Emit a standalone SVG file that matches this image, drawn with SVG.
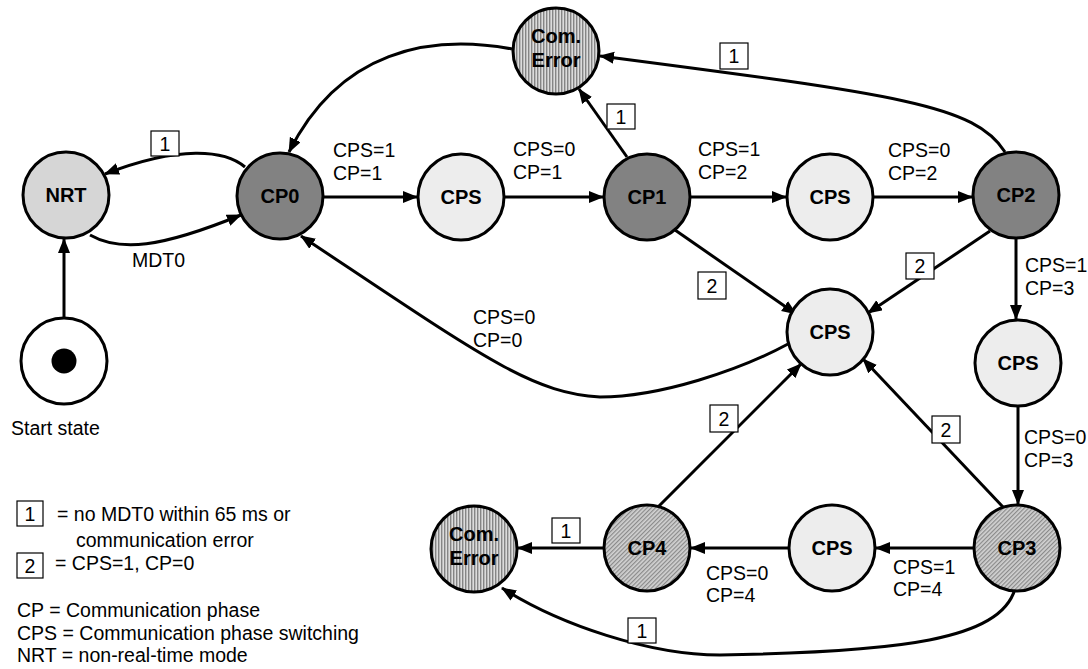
<svg xmlns="http://www.w3.org/2000/svg" width="1088" height="669" viewBox="0 0 1088 669">
<defs>
<style>
.node{stroke:#000;stroke-width:3}
.dark{fill:#828282}
.nrt{fill:#d6d6d6}
.cps{fill:#ededed}
.err{fill:url(#vstripe)}
.hatch{fill:url(#dstripe)}
.nl{font-family:"Liberation Sans",Arial,sans-serif;font-weight:bold;font-size:20px;text-anchor:middle;fill:#000}
.lbl{font-family:"Liberation Sans",Arial,sans-serif;font-size:19.5px;fill:#000}
.box{fill:#fff;stroke:#000;stroke-width:1.2}
.bt{font-family:"Liberation Sans",Arial,sans-serif;font-size:19.5px;text-anchor:middle;fill:#000}
.edge{fill:none;stroke:#000;stroke-width:3;marker-end:url(#arr)}
</style>
<marker id="arr" markerUnits="userSpaceOnUse" markerWidth="16" markerHeight="14" refX="14" refY="6" orient="auto">
<path d="M0,0 L15,6 L0,12 z" fill="#000"/>
</marker>
<pattern id="vstripe" width="3" height="3" patternUnits="userSpaceOnUse">
<rect width="3" height="3" fill="#dcdcdc"/>
<rect x="0" width="1.4" height="3" fill="#858585"/>
</pattern>
<pattern id="dstripe" width="3" height="3" patternUnits="userSpaceOnUse" patternTransform="rotate(45)">
<rect width="3" height="3" fill="#d2d2d2"/>
<rect x="0" width="1.2" height="3" fill="#8a8a8a"/>
</pattern>
</defs>
<rect width="1088" height="669" fill="#fff"/>

<g id="connectors">
<path class="edge" d="M64,318 L64,239"/>
<path class="edge" d="M245,167 C225,150 180,145 105,174"/>
<path class="edge" d="M90,235 C120,252 160,248 241,215"/>
<path class="edge" d="M323,197 L417,197"/>
<path class="edge" d="M504,197 L603,197"/>
<path class="edge" d="M690,197 L786,197"/>
<path class="edge" d="M873,197 L972,197"/>
<path class="edge" d="M627,157 L579,89"/>
<path class="edge" d="M1005,152 C975,105 900,95 600,56"/>
<path class="edge" d="M512,49 C430,34 340,50 289,152"/>
<path class="edge" d="M675,230 L796,314"/>
<path class="edge" d="M990,231 L868,313"/>
<path class="edge" d="M788,344 C740,370 660,397 600,397 C530,393 480,355 301,236"/>
<path class="edge" d="M1016,238 L1016,319"/>
<path class="edge" d="M1018,406 L1018,504"/>
<path class="edge" d="M1003,507 L863,359"/>
<path class="edge" d="M658,507 L801,364"/>
<path class="edge" d="M974,548 L876,548"/>
<path class="edge" d="M789,548 L691,548"/>
<path class="edge" d="M604,548 L518,548"/>
<path class="edge" d="M1015,589 C1000,640 900,652 720,655 C650,655 560,625 502,588"/>
</g>

<g id="edge-labels">
<text class="lbl" x="333" y="157">CPS=1</text>
<text class="lbl" x="333" y="180">CP=1</text>
<text class="lbl" x="513" y="156">CPS=0</text>
<text class="lbl" x="513" y="179">CP=1</text>
<text class="lbl" x="698" y="156">CPS=1</text>
<text class="lbl" x="698" y="179">CP=2</text>
<text class="lbl" x="888" y="157">CPS=0</text>
<text class="lbl" x="888" y="180">CP=2</text>
<text class="lbl" x="132" y="267">MDT0</text>
<text class="lbl" x="473" y="324">CPS=0</text>
<text class="lbl" x="473" y="347">CP=0</text>
<text class="lbl" x="1025" y="272">CPS=1</text>
<text class="lbl" x="1025" y="295">CP=3</text>
<text class="lbl" x="1024" y="444">CPS=0</text>
<text class="lbl" x="1024" y="467">CP=3</text>
<text class="lbl" x="893" y="574">CPS=1</text>
<text class="lbl" x="893" y="596">CP=4</text>
<text class="lbl" x="706" y="580">CPS=0</text>
<text class="lbl" x="706" y="602">CP=4</text>
<rect class="box" x="151" y="131" width="28" height="25"/><text class="bt" x="165" y="151">1</text>
<rect class="box" x="607" y="104" width="28" height="25"/><text class="bt" x="621" y="124">1</text>
<rect class="box" x="720" y="43" width="28" height="26"/><text class="bt" x="734" y="63">1</text>
<rect class="box" x="698" y="272" width="28" height="27"/><text class="bt" x="712" y="293">2</text>
<rect class="box" x="906" y="253" width="28" height="26"/><text class="bt" x="920" y="273">2</text>
<rect class="box" x="710" y="405" width="28" height="27"/><text class="bt" x="724" y="426">2</text>
<rect class="box" x="932" y="416" width="28" height="27"/><text class="bt" x="946" y="437">2</text>
<rect class="box" x="552" y="518" width="28" height="25"/><text class="bt" x="566" y="538">1</text>
<rect class="box" x="628" y="618" width="28" height="25"/><text class="bt" x="642" y="638">1</text>
</g>

<g id="start">
<circle class="node" cx="64" cy="361" r="43" fill="#fff"/>
<circle cx="64" cy="361" r="12.5" fill="#000"/>
<text class="lbl" x="11" y="435">Start state</text>
</g>
<g id="nrt"><circle class="node nrt" cx="66" cy="195" r="43"/><text class="nl" x="66" y="202">NRT</text></g>
<g id="cp0"><circle class="node dark" cx="280" cy="196" r="43"/><text class="nl" x="280" y="203">CP0</text></g>
<g id="cps-a"><circle class="node cps" cx="461" cy="197" r="43"/><text class="nl" x="461" y="204">CPS</text></g>
<g id="cp1"><circle class="node dark" cx="647" cy="197" r="43"/><text class="nl" x="647" y="204">CP1</text></g>
<g id="cps-b"><circle class="node cps" cx="830" cy="197" r="43"/><text class="nl" x="830" y="204">CPS</text></g>
<g id="cp2"><circle class="node dark" cx="1016" cy="195" r="43"/><text class="nl" x="1016" y="202">CP2</text></g>
<g id="comerr-top"><circle class="node err" cx="556" cy="51" r="43"/><text class="nl" x="556" y="43">Com.</text><text class="nl" x="556" y="67">Error</text></g>
<g id="cps-c"><circle class="node cps" cx="830" cy="332" r="43"/><text class="nl" x="830" y="339">CPS</text></g>
<g id="cps-d"><circle class="node cps" cx="1018" cy="363" r="43"/><text class="nl" x="1018" y="370">CPS</text></g>
<g id="cp3"><circle class="node hatch" cx="1017" cy="548" r="43"/><text class="nl" x="1017" y="555">CP3</text></g>
<g id="cps-e"><circle class="node cps" cx="832" cy="548" r="43"/><text class="nl" x="832" y="555">CPS</text></g>
<g id="cp4"><circle class="node hatch" cx="647" cy="548" r="43"/><text class="nl" x="647" y="555">CP4</text></g>
<g id="comerr-bot"><circle class="node err" cx="474" cy="549" r="43"/><text class="nl" x="474" y="541">Com.</text><text class="nl" x="474" y="565">Error</text></g>

<g id="legend">
<rect class="box" x="17" y="501" width="26" height="25"/><text class="bt" x="30" y="521">1</text>
<text class="lbl" x="57" y="521">= no MDT0 within 65 ms or</text>
<text class="lbl" x="76" y="547">communication error</text>
<rect class="box" x="17" y="553" width="26" height="25"/><text class="bt" x="30" y="573">2</text>
<text class="lbl" x="55" y="570">= CPS=1, CP=0</text>
<text class="lbl" x="17" y="617">CP = Communication phase</text>
<text class="lbl" x="17" y="640">CPS = Communication phase switching</text>
<text class="lbl" x="17" y="662">NRT = non-real-time mode</text>
</g>
</svg>
